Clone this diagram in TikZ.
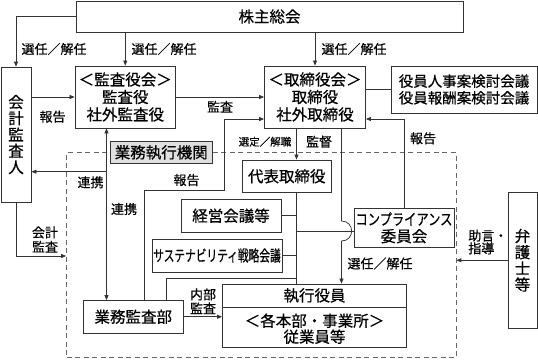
\documentclass[tikz,border=0pt]{standalone}
\usepackage{fontspec}
\setmainfont{Noto Sans CJK JP}[FakeBold=0.5]
\usetikzlibrary{arrows.meta}
\begin{document}
\begin{tikzpicture}[x=1pt,y=-1pt,
  line width=0.75pt, draw=black!80,
  box/.style={draw=black!80, line width=0.8pt, inner sep=0pt, align=center,
    font=\fontsize{15.5}{17.5}\selectfont},
  lbl/.style={inner sep=0pt, align=center, font=\fontsize{13}{14.4}\selectfont},
  arr/.style={-{Triangle[length=5pt,width=4pt]}},
  arrb/.style={{Triangle[length=5pt,width=4pt]}-{Triangle[length=5pt,width=4pt]}}]
\useasboundingbox (0,0) rectangle (538,359);

% boxes
\node[box, minimum width=387pt, minimum height=31pt] (sh) at (269.5,16.5) {株主総会};
\node[box, minimum width=30pt, minimum height=135pt, font=\fontsize{15.5}{16.3}\selectfont] (kaikei) at (16,134.5) {会\\計\\監\\査\\人};
\node[box, minimum width=100.5pt, minimum height=62pt] (kansa) at (125.25,97) {＜監査役会＞\\監査役\\社外監査役};
\node[box, minimum width=101pt, minimum height=62pt] (tori) at (315,97) {＜取締役会＞\\取締役\\社外取締役};
\node[box, minimum width=146pt, minimum height=47pt, font=\fontsize{14.5}{16.7}\selectfont] (yakuin) at (464,89.5) {役員人事案検討会議\\役員報酬案検討会議};
\node[draw=black!60, dashed, dash pattern=on 5pt off 3.5pt, line width=0.7pt, minimum width=389.5pt, minimum height=205pt, inner sep=0pt] (exec) at (261.25,255) {};
\node[box, fill=black!12, minimum width=101.5pt, minimum height=22pt] (gyomu) at (161.25,152.5) {業務執行機関};
\node[box, minimum width=89.5pt, minimum height=32.5pt] (daihyo) at (286.75,176.25) {代表取締役};
\node[box, minimum width=100pt, minimum height=32.5pt] (keiei) at (231,215.75) {経営会議等};
\node[box, minimum width=130pt, minimum height=33pt] (sust) at (217,255.5) {\scalebox{0.69}[1]{サステナビリティ戦略会議}};
\node[box, minimum width=100pt, minimum height=39.5pt, font=\fontsize{15.5}{17}\selectfont] (comp) at (404,227.75) {\scalebox{0.79}[1]{コンプライアンス}\\委員会};
\node[box, minimum width=100.5pt, minimum height=32.5pt] (kansabu) at (133.25,316.75) {業務監査部};
\node[box, minimum width=184pt, minimum height=63pt] (shikko) at (314.5,315.5) {};
\node[box, draw=none] (shk1) at (314.5,295.5) {執行役員};
\node[box, draw=none, font=\fontsize{15.5}{16}\selectfont] (shk2) at (314.5,328.7) {＜各本部・事業所＞\\従業員等};
\node[box, minimum width=29pt, minimum height=136.5pt, font=\fontsize{15.5}{16.2}\selectfont] (bengo) at (522.5,260.25) {弁\\護\\士\\等};

% helper coordinates
\coordinate (c307) at (0,307.5);
\coordinate (rA) at (106.5,171.7);
\coordinate (tX) at (296.5,0);
\coordinate (c231) at (0,231);
\coordinate (c256) at (0,256);
\coordinate (c119) at (0,119);
\coordinate (p1) at (144.8,190);
\coordinate (p2) at (224.8,119);
\coordinate (p3) at (166,278);
\coordinate (j1) at (341.5,221);
\coordinate (j2) at (341.5,241);
\coordinate (j1a) at (355,221);
\coordinate (j2a) at (355,241);

\draw[draw=black!80, line width=0.8pt] (shikko.west |- c307) -- (shikko.east |- c307);

% connectors
\draw[arr] (sh.west) -| (kaikei.north);
\draw[arr] (kansa.north |- sh.south) -- (kansa.north);
\draw[arr] (tori.north |- sh.south) -- (tori.north);
\draw[arr] (kaikei.east |- kansa.west) -- (kansa.west);
\draw[arr] (kansa.east) -- (tori.west);
\draw (tori.east |- yakuin.west) -- (yakuin.west);
\draw[arrb] (kansa.south -| rA) -- (kansabu.north -| rA);
\draw[arr] (rA) -- (rA -| kaikei.east);
\draw[arr] (kaikei.south) |- (exec.west |- c256);
\draw[arr] (bengo.west) -- (bengo.west -| exec.east);
\draw[arr] (tori.south -| tX) -- (daihyo.north -| tX);
\draw (daihyo.south -| tX) -- (shikko.north -| tX);
\draw (keiei.east) -- (keiei.east -| tX);
\draw (sust.east) -- (sust.east -| tX);
\draw (tX |- c231) -- (comp.west |- c231);
\draw[arr] (tori.south -| j1) -- (j1) .. controls (j1a) and (j2a) .. (j2) -- (shikko.north -| j2);
\draw[arr] (comp.north) |- (tori.east |- c119);
\draw[arr] (p1 |- kansabu.north) -- (p1) -| (p2) -- (p2 -| tori.west);
\draw (p3 |- kansabu.north) -- (p3) -- (p3 -| tX);
\draw[arr] (kansabu.east) -- (kansabu.east -| shikko.west);

% labels
\node[lbl] (l1) at (54,49) {選任／解任};
\node[lbl] (l2) at (164,49) {選任／解任};
\node[lbl] (l3) at (354,49) {選任／解任};
\node[lbl] (l4) at (52.5,116.7) {報告};
\node[lbl] (l5) at (220,106.7) {監査};
\node[lbl, font=\fontsize{10.5}{12}\selectfont] (l6) at (265,141.7) {選定／解職};
\node[lbl] (l7) at (319,141.7) {監督};
\node[lbl] (l8) at (423,138.3) {報告};
\node[lbl] (l9) at (90.5,182.3) {連携};
\node[lbl] (l10) at (186.5,180) {報告};
\node[lbl] (l11) at (124,209) {連携};
\node[lbl] (l12) at (45,239.5) {会計\\監査};
\node[lbl] (l13) at (380,263.5) {選任／解任};
\node[lbl, anchor=west, align=left, font=\fontsize{13}{12.8}\selectfont] (l14) at (468,242) {助言・\\指導};
\node[lbl, font=\fontsize{13}{14}\selectfont] (l15) at (203,301.3) {内部\\監査};
\end{tikzpicture}
\end{document}
